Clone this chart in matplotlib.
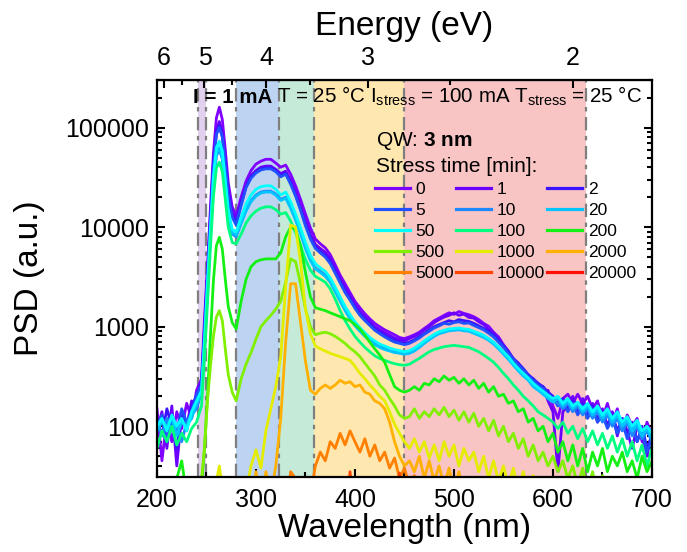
import matplotlib
matplotlib.use("Agg")
import matplotlib.pyplot as plt
from matplotlib.lines import Line2D
from matplotlib.ticker import FixedLocator, LogLocator, NullFormatter, FuncFormatter, AutoMinorLocator

plt.rcParams["font.family"] = "Liberation Sans"
plt.rcParams["mathtext.fontset"] = "custom"
plt.rcParams["mathtext.rm"] = "Liberation Sans"
plt.rcParams["mathtext.bf"] = "Liberation Sans:bold"
plt.rcParams["mathtext.it"] = "Liberation Sans:italic"

# wavelength grid (nm)
wavelength = (list(range(200, 246, 5))
              + [248, 251, 254, 257, 260, 263, 266, 269, 272, 276]
              + list(range(280, 701, 5)))

stress_labels = ["0", "1", "2", "5", "10", "20", "50", "100", "200",
                 "500", "1000", "2000", "5000", "10000", "20000"]

psd_0 = [150, 45, 120, 70, 140, 95, 170, 120, 230, 300,
         1200, 4000, 16000, 55000, 125000, 160000, 120000, 60000, 28000, 16000,
         13000, 20000, 29000, 37000, 43000, 46000, 48000, 48000, 44000, 40000,
         42000, 34000, 26000, 19000, 13500, 9800, 7600, 6800, 6200, 5300,
         4200, 3300, 2700, 2200, 1800, 1550, 1350, 1200, 1080, 1000,
         930, 880, 830, 780, 760,
         790, 830, 880, 960, 1040, 1150, 1220, 1300, 1380, 1330,
         1420, 1360, 1320, 1260, 1180, 1080, 1010, 880, 790, 660,
         570, 470, 430, 350, 330, 280, 270, 220, 230, 160,
         120, 190, 210, 170, 210, 170, 200, 150, 180, 120,
         170, 110, 150, 90, 130, 100, 120, 70, 110, 80]
psd_1 = [90, 140, 60, 160, 40, 130, 100, 180, 150, 260,
         1000, 3500, 13000, 45000, 95000, 115000, 90000, 48000, 24000, 14000,
         12000, 18000, 26000, 33000, 37000, 40000, 41000, 41000, 38000, 34500,
         36500, 29500, 22500, 16000, 11500, 8400, 6700, 6100, 5600, 4800,
         3800, 3000, 2450, 2000, 1650, 1420, 1250, 1120, 1000, 930,
         870, 820, 770, 740, 720,
         760, 800, 860, 930, 1000, 1100, 1180, 1250, 1300, 1380,
         1300, 1340, 1240, 1220, 1120, 1050, 940, 860, 740, 640,
         540, 470, 400, 360, 300, 300, 240, 250, 180, 140,
         35, 140, 160, 200, 150, 190, 140, 170, 110, 150,
         100, 140, 80, 120, 90, 60, 100, 80, 50, 90]
psd_2 = [120, 80, 150, 100, 60, 140, 90, 160, 200, 280,
         900, 3200, 12000, 41000, 88000, 105000, 82000, 44000, 22000, 13000,
         11000, 17000, 25500, 32000, 36000, 38500, 39500, 39500, 37000, 33000,
         35000, 28000, 21000, 15200, 10800, 7900, 6300, 5700, 5200, 4500,
         3600, 2850, 2300, 1900, 1580, 1350, 1180, 1060, 950, 880,
         820, 770, 730, 700, 680,
         700, 740, 800, 860, 930, 1000, 1050, 1100, 1150, 1120,
         1180, 1150, 1130, 1080, 1020, 960, 900, 820, 740, 640,
         560, 480, 430, 380, 330, 300, 270, 250, 220, 200,
         170, 190, 150, 180, 140, 170, 130, 160, 120, 140,
         100, 130, 90, 120, 80, 110, 70, 100, 60, 80]
psd_5 = [100, 130, 70, 120, 90, 150, 110, 140, 210, 260,
         850, 3000, 11500, 39000, 85000, 100000, 80000, 43000, 21000, 12500,
         10500, 16500, 25000, 31000, 35000, 37500, 38500, 38500, 36000, 32000,
         34000, 27000, 20500, 14800, 10300, 7600, 6100, 5500, 5000, 4300,
         3450, 2750, 2200, 1850, 1530, 1300, 1150, 1030, 920, 850,
         790, 740, 700, 680, 660,
         680, 720, 770, 840, 900, 970, 1020, 1080, 1060, 1100,
         1120, 1080, 1090, 1030, 980, 930, 860, 790, 700, 620,
         540, 470, 410, 370, 320, 290, 260, 240, 210, 190,
         160, 180, 140, 170, 130, 160, 120, 150, 110, 130,
         95, 120, 85, 110, 75, 100, 70, 90, 55, 75]
psd_10 = [110, 80, 120, 90, 100, 70, 110, 130, 150, 220,
          600, 2200, 8000, 26000, 52000, 60000, 48000, 25000, 13000, 8500,
          8000, 11000, 15000, 18500, 21000, 22500, 23000, 23000, 21500, 19000,
          20000, 16000, 12000, 8800, 6300, 4800, 3900, 3600, 3300, 2900,
          2300, 1850, 1500, 1250, 1050, 920, 820, 740, 680, 640,
          610, 590, 570, 560, 550,
          560, 590, 640, 700, 760, 820, 870, 900, 930, 940,
          950, 930, 920, 880, 840, 800, 750, 690, 620, 550,
          490, 420, 370, 330, 300, 260, 240, 220, 200, 180,
          170, 150, 170, 140, 160, 130, 150, 120, 140, 110,
          130, 100, 120, 90, 110, 80, 100, 75, 90, 70]
psd_20 = [90, 110, 100, 120, 80, 110, 100, 120, 170, 210,
          650, 2400, 8500, 28000, 55000, 63000, 50000, 26000, 13500, 8800,
          8300, 11000, 14500, 18000, 20500, 22000, 22500, 22500, 21000, 18500,
          19500, 15500, 11800, 8600, 6100, 4600, 3800, 3500, 3200, 2800,
          2250, 1800, 1450, 1200, 1020, 900, 800, 720, 660, 620,
          590, 570, 550, 540, 530,
          540, 570, 620, 680, 740, 800, 850, 880, 910, 920,
          930, 910, 900, 860, 820, 780, 730, 670, 600, 530,
          470, 410, 360, 320, 290, 250, 230, 210, 190, 175,
          190, 160, 180, 150, 170, 140, 160, 130, 150, 120,
          140, 110, 130, 100, 115, 90, 105, 80, 95, 75]
psd_50 = [100, 120, 90, 130, 100, 120, 90, 140, 180, 230,
          750, 2700, 9500, 32000, 63000, 73000, 58000, 30000, 15000, 9500,
          9000, 12500, 17000, 21000, 24000, 25500, 26000, 26000, 24000, 21000,
          22500, 18000, 13500, 9800, 7000, 5200, 4300, 3900, 3600, 3100,
          2500, 2000, 1600, 1330, 1120, 980, 870, 780, 720, 670,
          640, 610, 590, 575, 560,
          575, 610, 660, 720, 780, 840, 890, 920, 950, 960,
          970, 950, 940, 900, 860, 820, 760, 700, 630, 560,
          500, 430, 380, 340, 305, 270, 245, 225, 205, 190,
          200, 170, 190, 160, 175, 150, 170, 140, 160, 130,
          150, 120, 140, 110, 125, 100, 115, 90, 100, 85]
psd_100 = [60, 90, 70, 100, 65, 85, 70, 95, 110, 160,
           500, 1700, 6200, 20000, 39000, 45000, 36000, 19000, 10000, 7000,
           6800, 8500, 11000, 13000, 14500, 15500, 16000, 16000, 15000, 13500,
           14000, 11500, 8800, 6500, 4700, 3700, 3200, 3000, 2800, 2400,
           1900, 1450, 1150, 950, 800, 700, 620, 560, 510, 480,
           460, 440, 425, 415, 410,
           420, 450, 480, 520, 560, 590, 610, 630, 640, 650,
           640, 630, 620, 590, 560, 520, 480, 440, 390, 340,
           300, 260, 230, 200, 180, 160, 140, 130, 120, 110,
           95, 110, 85, 100, 75, 95, 70, 90, 65, 85,
           60, 80, 55, 75, 50, 70, 45, 65, 40, 60]
psd_200 = [15, 20, 25, 20, 30, 45, 20, 15, 20, 25,
           60, 200, 800, 2900, 6500, 7900, 6000, 3000, 1600, 1100,
           950, 1800, 3000, 4000, 4500, 4700, 4800, 4800, 4800, 5500,
           8000, 10000, 9500, 6500, 3500, 2000, 1550, 1500, 1450, 1380,
           1320, 1260, 1200, 1150, 1050, 950, 820, 700, 600, 520,
           440, 330, 250, 230, 220,
           230, 250, 230, 270, 260, 300, 280, 320, 290, 310,
           270, 300, 260, 290, 240, 270, 220, 250, 200, 210,
           170, 180, 140, 150, 110, 120, 90, 100, 70, 85,
           55, 70, 45, 65, 40, 60, 35, 55, 40, 60,
           35, 50, 40, 55, 35, 45, 30, 50, 35, 45]
psd_500 = [30, 20, 15, 20, 15, 20, 15, 20, 25, 30,
           60, 180, 400, 800, 1250, 1450, 1150, 600, 330, 220,
           180, 300, 420, 550, 750, 1000, 1150, 1300, 1500, 1800,
           2800, 4800, 4500, 2700, 1500, 1000, 830, 860, 880, 850,
           800, 740, 680, 610, 560, 500, 430, 370, 320, 260,
           230, 190, 160, 130, 120,
           125, 150, 120, 140, 125, 150, 130, 155, 125, 145,
           115, 140, 110, 135, 100, 120, 90, 115, 80, 100,
           70, 85, 60, 75, 50, 65, 45, 55, 40, 50,
           35, 45, 30, 40, 25, 38, 22, 35, 20, 32,
           20, 30, 18, 28, 18, 25, 15, 22, 15, 20]
psd_1000 = [10, 10, 10, 10, 10, 10, 10, 10, 10, 10,
            10, 10, 12, 18, 28, 40, 24, 12, 10, 10,
            10, 14, 22, 40, 58, 38, 90, 150, 250, 500,
            2500, 10500, 10000, 4500, 1500, 850, 640, 600, 570, 540,
            520, 500, 480, 460, 400, 340, 300, 260, 230, 200,
            180, 140, 105, 85, 70,
            60, 75, 55, 70, 48, 65, 45, 70, 50, 65,
            40, 60, 45, 55, 35, 50, 30, 45, 28, 40,
            25, 38, 22, 35, 20, 32, 20, 30, 18, 28,
            15, 25, 15, 22, 14, 20, 12, 18, 12, 16,
            10, 15, 10, 14, 10, 12, 10, 12, 10, 10]
psd_2000 = [10] * 20 + [
            10, 10, 15, 10, 35, 15, 35, 20, 40, 120,
            700, 2700, 2700, 1100, 450, 230, 210, 240, 260, 240,
            260, 290, 270, 280, 250, 260, 220, 210, 180, 170,
            150, 110, 70, 50, 40,
            45, 35, 50, 30, 45, 28, 40, 25, 38, 22,
            35, 20, 30, 18, 28, 15, 25, 14, 22, 12,
            20, 12, 18, 10, 15, 10, 14, 10, 12, 10] + [10] * 20
psd_5000 = [10] * 30 + [
            12, 35, 30, 18, 15, 20, 40, 55, 45, 70,
            60, 85, 65, 90, 70, 55, 75, 50, 65, 45,
            55, 38, 48, 30, 38,
            25, 32, 20, 28, 15, 22, 12, 18, 10, 15] + [10] * 40
psd_10000 = [10] * 40 + [
             10, 15, 10, 35, 12, 10, 10, 10, 10, 10,
             10, 10, 14, 34, 12] + [10] * 50
psd_20000 = [10] * 42 + [22, 12, 10, 10, 10, 10, 10, 10, 10, 10,
                         10, 10, 10] + [10] * 50

series = [psd_0, psd_1, psd_2, psd_5, psd_10, psd_20, psd_50, psd_100,
          psd_200, psd_500, psd_1000, psd_2000, psd_5000, psd_10000, psd_20000]
line_colors = ["#8000FF", "#6A00FF", "#3A14FF", "#2050FF", "#1E88FF",
               "#00C4FF", "#00FFFF", "#00FF80", "#14F014", "#80F000",
               "#E4EC00", "#FFB000", "#FF8000", "#FF4400", "#FF1000"]

band_edges = [(241, 250), (280, 323), (323, 359), (359, 450), (450, 633)]
band_colors = ["#E2D0EF", "#BCD4F2", "#C6EAD8", "#FFE8B0", "#F8C4C4"]
divider_lines = [241, 250, 280, 323, 359, 450, 633]

fig = plt.figure(figsize=(6.87, 5.52), dpi=100)
ax = fig.add_axes([0.2285, 0.136, 0.7205, 0.719])

for (lo, hi), c in zip(band_edges, band_colors):
    ax.axvspan(lo, hi, color=c, lw=0, zorder=0)
for x in divider_lines:
    ax.axvline(x, color="#7f7f7f", lw=1.6, ls=(0, (6, 2.5, 2, 2.5)), zorder=1)

for vals, col in zip(series, line_colors):
    ax.plot(wavelength, vals, color=col, lw=2.0, zorder=2)

ax.set_yscale("log")
ax.set_xlim(200, 700)
ax.set_ylim(31, 3.0e5)

ax.yaxis.set_major_locator(FixedLocator([100, 1000, 10000, 100000]))
ax.yaxis.set_major_formatter(FuncFormatter(lambda v, p: f"{int(round(v))}"))
ax.yaxis.set_minor_locator(LogLocator(base=10, subs=range(2, 10)))
ax.yaxis.set_minor_formatter(NullFormatter())
ax.set_xticks(range(200, 701, 100))
ax.xaxis.set_minor_locator(AutoMinorLocator(2))

ax.tick_params(which="both", direction="in", width=1.5, labelsize=18,
               top=False, right=True)
ax.tick_params(which="major", length=6)
ax.tick_params(which="minor", length=3.5)
ax.tick_params(axis="x", pad=8)
ax.tick_params(axis="y", pad=6)
for s in ax.spines.values():
    s.set_linewidth(1.6)

ax.set_xlabel("Wavelength (nm)", fontsize=24, labelpad=1)
ax.set_ylabel("PSD (a.u.)", fontsize=24, labelpad=14)

sec = ax.secondary_xaxis("top", functions=(lambda x: 1240.0 / x, lambda e: 1240.0 / e))
sec.set_xticks([6, 5, 4, 3, 2])
sec.xaxis.set_minor_locator(FixedLocator([5.5, 4.5, 3.5, 2.5]))
sec.tick_params(which="both", direction="in", width=1.5, labelsize=18, pad=7)
sec.tick_params(which="major", length=6)
sec.tick_params(which="minor", length=3.5)
sec.set_xlabel("Energy (eV)", fontsize=24, labelpad=8)

# header: bold part, then the rest placed right after it
head_bold = ax.text(0.0727, 0.942, "I = 1 mA", transform=ax.transAxes,
                    fontsize=14.8, fontweight="bold", ha="left", va="baseline", zorder=3)
renderer = fig.canvas.get_renderer()
bb = head_bold.get_window_extent(renderer)
x_rest = ax.transAxes.inverted().transform((bb.x1 + 5, bb.y0))[0]
ax.text(x_rest, 0.942,
        r"T = 25 °C I$_{\mathrm{stress}}$ = 100 mA T$_{\mathrm{stress}}$ = 25 °C",
        transform=ax.transAxes, fontsize=14.8, ha="left", va="baseline", zorder=3)

ax.text(0.4424, 0.846, r"QW: $\mathbf{3\ nm}$", transform=ax.transAxes,
        fontsize=15, ha="left", va="center", zorder=3)
ax.text(0.4424, 0.783, "Stress time [min]:", transform=ax.transAxes,
        fontsize=15, ha="left", va="center", zorder=3)

handles = [Line2D([], [], color=c, lw=2.3) for c in line_colors]
order = [r * 3 + c for c in range(3) for r in range(5)]
ax.legend([handles[i] for i in order], [stress_labels[i] for i in order],
          ncol=3, loc="upper left", bbox_to_anchor=(0.4404, 0.743),
          frameon=False, fontsize=12.5, handlelength=2.0, handletextpad=0.35,
          columnspacing=0.1, labelspacing=0.33, borderpad=0, borderaxespad=0)

fig.savefig("out.png", dpi=100)
